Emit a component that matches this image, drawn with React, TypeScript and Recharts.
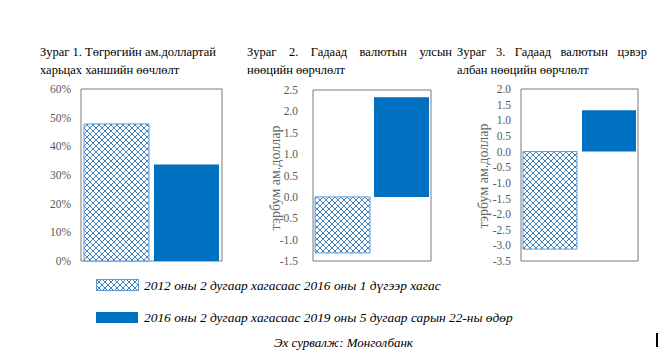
import { BarChart, Bar, XAxis, YAxis, ReferenceArea } from 'recharts';

const seriesNames = [
    '2012 оны 2 дугаар хагасаас 2016 оны 1 дүгээр хагас',
    '2016 оны 2 дугаар хагасаас 2019 оны 5 дугаар сарын 22-ны өдөр'
];

const rateChange = [47.8, 33.7];
const reserveChange = [-1.31, 2.33];
const netReserveChange = [-3.12, 1.32];

const pctTicks = [0, 10, 20, 30, 40, 50, 60];
const reserveTicks = [-1.5, -1, -0.5, 0, 0.5, 1, 1.5, 2, 2.5];
const netTicks = [-3.5, -3, -2.5, -2, -1.5, -1, -0.5, 0, 0.5, 1, 1.5, 2];

const titles = [
    ['Зураг 1. Төгрөгийн ам.доллартай', 'харьцах ханшийн өөчлөлт'],
    ['Зураг 2. Гадаад валютын улсын', 'нөөцийн өөрчлөлт'],
    ['Зураг 3. Гадаад валютын цэвэр', 'албан нөөцийн өөрчлөлт']
];

const unitLabel = 'тэрбум ам.доллар';
const sourceText = 'Эх сурвалж: Монголбанк';

const SERIF = '"Liberation Serif", "Times New Roman", serif';
const HATCH = '#2e75b6';
const SOLID = '#0070c0';

function Hatch({ id }: { id: string }) {
    return (
        <pattern id={id} patternUnits="userSpaceOnUse" width={6} height={6}>
            <rect width={6} height={6} fill="#fff" />
            <path d="M0,0 L6,6 M6,0 L0,6" stroke={HATCH} strokeWidth={0.9} />
        </pattern>
    );
}

interface SmallChartProps {
    id: string;
    values: number[];
    ticks: number[];
    fmt: (v: number) => string;
    left: number;
    width: number;
    yWidth: number;
    tickGap: number;
    marginRight: number;
    marginTop: number;
    catGap: number;
    barGap: number;
}

function SmallChart(p: SmallChartProps) {
    const data = [{ name: '', a: p.values[0], b: p.values[1] }];
    const min = p.ticks[0];
    const max = p.ticks[p.ticks.length - 1];
    return (
        <div style={{ position: 'absolute', left: p.left, top: 80 }}>
            <BarChart
                width={p.width}
                height={195}
                data={data}
                margin={{ top: p.marginTop, right: p.marginRight, bottom: 14, left: 0 }}
                barCategoryGap={p.catGap}
                barGap={p.barGap}
            >
                <defs>
                    <Hatch id={p.id} />
                </defs>
                <XAxis dataKey="name" hide />
                <YAxis
                    domain={[min, max]}
                    ticks={p.ticks}
                    interval={0}
                    tickFormatter={p.fmt}
                    width={p.yWidth}
                    axisLine={false}
                    tickLine={false}
                    tickSize={0}
                    tickMargin={p.tickGap}
                    tick={{ fill: '#595959', fontSize: 11.5, fontFamily: SERIF }}
                />
                <Bar dataKey="a" fill={`url(#${p.id})`} stroke="#5b9bd5" strokeWidth={1} isAnimationActive={false} />
                <Bar dataKey="b" fill={SOLID} isAnimationActive={false} />
                <ReferenceArea y1={min} y2={max} fill="none" stroke="#7a7a7a" strokeWidth={1} fillOpacity={0} />
            </BarChart>
        </div>
    );
}

function Title({ lines, left, width, justify }: { lines: string[]; left: number; width: number; justify: boolean }) {
    return (
        <div style={{ position: 'absolute', left, top: 44, width, fontFamily: SERIF, fontSize: 12.5, lineHeight: '17.5px', color: '#000' }}>
            <div style={{ textAlign: justify ? 'justify' : 'left', textAlignLast: justify ? 'justify' : 'left', whiteSpace: 'nowrap' }}>
                {lines[0]}
            </div>
            <div>{lines[1]}</div>
        </div>
    );
}

function UnitLabel({ cx, cy }: { cx: number; cy: number }) {
    return (
        <div
            style={{
                position: 'absolute',
                left: cx,
                top: cy,
                transform: 'translate(-50%, -50%) rotate(-90deg)',
                whiteSpace: 'nowrap',
                fontFamily: SERIF,
                fontSize: 14,
                color: '#666'
            }}
        >
            {unitLabel}
        </div>
    );
}

const legendText = {
    position: 'absolute' as const,
    left: 144,
    fontFamily: SERIF,
    fontStyle: 'italic',
    fontSize: 13.4,
    lineHeight: '17px',
    whiteSpace: 'nowrap' as const
};

export default function App() {
    const one = (v: number) => v.toFixed(1);
    return (
        <div style={{ position: 'absolute', left: 0, top: 0, width: 670, height: 353, background: '#fff', overflow: 'hidden' }}>
            <Title lines={titles[0]} left={40} width={185} justify={false} />
            <Title lines={titles[1]} left={247} width={205} justify={true} />
            <Title lines={titles[2]} left={457} width={190} justify={true} />

            <SmallChart id="hatch1" values={rateChange} ticks={pctTicks} fmt={(v) => `${v}%`}
                left={0} width={240} yWidth={81} tickGap={10} marginRight={18} marginTop={9} catGap={3} barGap={5} />
            <SmallChart id="hatch2" values={reserveChange} ticks={reserveTicks} fmt={one}
                left={230} width={220} yWidth={83} tickGap={15} marginRight={19} marginTop={10} catGap={2} barGap={4} />
            <SmallChart id="hatch3" values={netReserveChange} ticks={netTicks} fmt={one}
                left={440} width={220} yWidth={81} tickGap={10} marginRight={22} marginTop={9} catGap={2} barGap={5} />

            <UnitLabel cx={276} cy={178} />
            <UnitLabel cx={484} cy={176} />

            <svg style={{ position: 'absolute', left: 96, top: 279 }} width={43} height={12}>
                <defs>
                    <Hatch id="hatchLegend" />
                </defs>
                <rect x={0.5} y={0.5} width={42} height={11} fill="url(#hatchLegend)" stroke="#5b9bd5" />
            </svg>
            <div style={{ ...legendText, top: 277 }}>{seriesNames[0]}</div>
            <div style={{ position: 'absolute', left: 96, top: 312, width: 42, height: 11, background: SOLID }} />
            <div style={{ ...legendText, top: 309 }}>{seriesNames[1]}</div>
            <div style={{ ...legendText, left: 274, top: 334, fontSize: 13 }}>{sourceText}</div>
            <div style={{ position: 'absolute', left: 656, top: 333, width: 1.5, height: 14, background: '#000' }} />
        </div>
    );
}
